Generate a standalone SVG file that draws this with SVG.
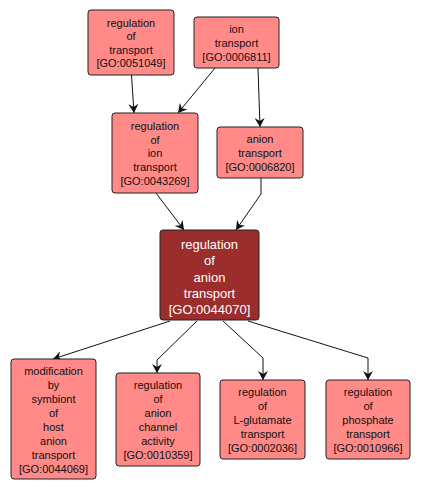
<svg xmlns="http://www.w3.org/2000/svg" width="421" height="492" viewBox="0 0 421 492">
<style>
.n rect{fill:#ff8a87;stroke:#222;stroke-width:1}
.n text{font-family:"Liberation Sans",Arial,sans-serif;font-size:11px;fill:#111;text-anchor:middle}
#central rect{fill:#9b2d2d}
#central text{fill:#fff;font-size:13px}
.e path{fill:none;stroke:#111;stroke-width:1;marker-end:url(#a)}
</style>
<defs>
<marker id="a" markerWidth="10" markerHeight="10" refX="9" refY="5" orient="auto" markerUnits="userSpaceOnUse">
<path d="M0,0 L9,5 L0,10 L3,5 Z" fill="#111"/>
</marker>
</defs>
<rect width="421" height="492" fill="#fff"/>
<g class="e">
<path d="M131.5,75 L134,113"/>
<path d="M215,68 L178,113"/>
<path d="M258,68 L260,127"/>
<path d="M156,193 L184,230"/>
<path d="M261,178 L261,194 L236,230"/>
<path d="M170,321 L53,359"/>
<path d="M197,321 L157,360 L157,373"/>
<path d="M223,321 L263,358 L263,380"/>
<path d="M248,321 L368,358 L368,380"/>
</g>
<g class="n" id="n1"><rect x="88" y="10" width="86" height="65" rx="3"/>
<text x="131" y="27">regulation</text><text x="131" y="40">of</text><text x="131" y="54">transport</text><text x="131" y="67">[GO:0051049]</text></g>
<g class="n" id="n2"><rect x="194" y="17" width="85" height="51" rx="3"/>
<text x="236.5" y="33">ion</text><text x="236.5" y="47">transport</text><text x="236.5" y="61">[GO:0006811]</text></g>
<g class="n" id="n3"><rect x="112" y="113" width="86" height="80" rx="3"/>
<text x="155" y="130">regulation</text><text x="155" y="144">of</text><text x="155" y="157">ion</text><text x="155" y="171">transport</text><text x="155" y="185">[GO:0043269]</text></g>
<g class="n" id="n4"><rect x="217" y="127" width="86" height="51" rx="3"/>
<text x="260" y="143">anion</text><text x="260" y="157">transport</text><text x="260" y="171">[GO:0006820]</text></g>
<g class="n" id="central"><rect x="160" y="230" width="99" height="90" rx="3"/>
<text x="209.5" y="248.5">regulation</text><text x="209.5" y="264.5">of</text><text x="209.5" y="281.5">anion</text><text x="209.5" y="297.5">transport</text><text x="209.5" y="313.5">[GO:0044070]</text></g>
<g class="n" id="n5"><rect x="11" y="359" width="85" height="120" rx="3"/>
<text x="53.5" y="375">modification</text><text x="53.5" y="389">by</text><text x="53.5" y="403">symbiont</text><text x="53.5" y="417">of</text><text x="53.5" y="431">host</text><text x="53.5" y="445">anion</text><text x="53.5" y="459">transport</text><text x="53.5" y="473">[GO:0044069]</text></g>
<g class="n" id="n6"><rect x="116" y="373" width="84" height="93" rx="3"/>
<text x="158" y="389">regulation</text><text x="158" y="403">of</text><text x="158" y="417">anion</text><text x="158" y="431">channel</text><text x="158" y="445">activity</text><text x="158" y="459">[GO:0010359]</text></g>
<g class="n" id="n7"><rect x="220" y="380" width="85" height="79" rx="3"/>
<text x="262.5" y="396">regulation</text><text x="262.5" y="410">of</text><text x="262.5" y="424">L-glutamate</text><text x="262.5" y="438">transport</text><text x="262.5" y="452">[GO:0002036]</text></g>
<g class="n" id="n8"><rect x="326" y="380" width="84" height="79" rx="3"/>
<text x="368" y="396">regulation</text><text x="368" y="410">of</text><text x="368" y="424">phosphate</text><text x="368" y="438">transport</text><text x="368" y="452">[GO:0010966]</text></g>
</svg>
